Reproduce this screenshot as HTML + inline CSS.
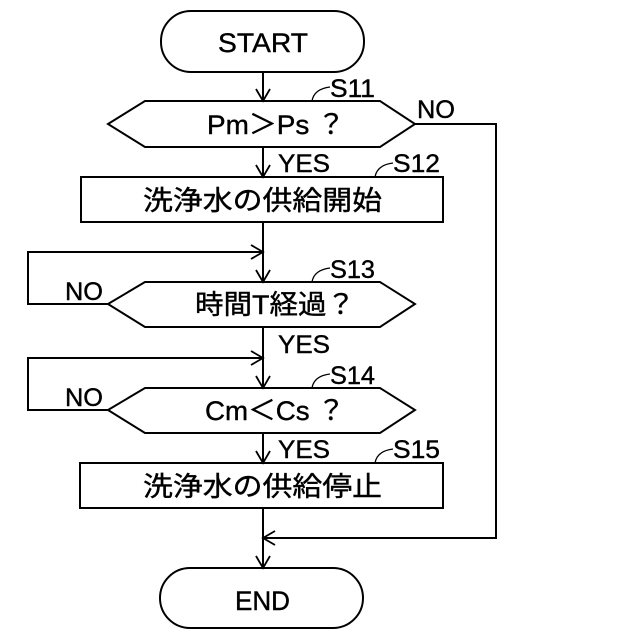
<!DOCTYPE html>
<html><head><meta charset="utf-8"><style>html,body{margin:0;padding:0;background:#fff}svg{display:block}text{font-family:"Liberation Sans","Noto Sans CJK JP",sans-serif;fill:#000;stroke:#000;stroke-width:0.4}</style></head><body>
<svg width="640" height="640" viewBox="0 0 640 640" xmlns="http://www.w3.org/2000/svg">
<g fill="none" stroke="#000" stroke-width="2">
<rect x="161" y="11" width="203" height="61" rx="30"/>
<polygon points="108,124 145,101 380,101 415,124 380,147 145,147"/>
<rect x="81" y="177" width="362" height="45"/>
<polygon points="108,304 145,282 380,282 415,304 380,327 145,327"/>
<polygon points="108,410 145,388 380,388 415,410 380,433 145,433"/>
<rect x="80" y="463" width="363" height="45"/>
<rect x="160" y="568" width="203" height="60" rx="30"/>
<line x1="263" y1="72" x2="263" y2="101"/>
<line x1="263" y1="147" x2="263" y2="177"/>
<line x1="263" y1="222" x2="263" y2="282"/>
<line x1="263" y1="327" x2="263" y2="388"/>
<line x1="263" y1="433" x2="263" y2="463"/>
<line x1="263" y1="508" x2="263" y2="568"/>
<polyline points="415,124 496,124 496,538 263,538"/>
<polyline points="108,304 28,304 28,252 263,252"/>
<polyline points="108,410 28,410 28,358 263,358"/>
<g stroke-width="1.8">
<polyline points="256,89 263,101 270,89"/>
<polyline points="256,165 263,177 270,165"/>
<polyline points="256,270 263,282 270,270"/>
<polyline points="256,376 263,388 270,376"/>
<polyline points="256,451 263,463 270,451"/>
<polyline points="256,556 263,568 270,556"/>
<polyline points="251,245 263,252 251,259"/>
<polyline points="251,351 263,358 251,365"/>
<polyline points="275,531 263,538 275,545"/>
</g>
<g stroke-width="1.3">
<path d="M312,101 Q314,89 330,87"/>
<path d="M375,177 Q377,165 393,163"/>
<path d="M312,282 Q314,270 330,268"/>
<path d="M312,388 Q314,376 330,374"/>
<path d="M375,463 Q377,451 393,449"/>
</g>
</g>
<g font-size="27">
<text x="218" y="52" textLength="90" lengthAdjust="spacingAndGlyphs">START</text>
<text x="207" y="134" textLength="138" lengthAdjust="spacingAndGlyphs">Pm＞Ps ？</text>
<text x="143" y="210" textLength="239" lengthAdjust="spacingAndGlyphs">洗浄水の供給開始</text>
<text x="195" y="314" textLength="160" lengthAdjust="spacingAndGlyphs">時間T経過？</text>
<text x="205" y="420" textLength="140" lengthAdjust="spacingAndGlyphs">Cm＜Cs ？</text>
<text x="143" y="496" textLength="239" lengthAdjust="spacingAndGlyphs">洗浄水の供給停止</text>
<text x="235" y="610" textLength="55" lengthAdjust="spacingAndGlyphs">END</text>
</g>
<g font-size="25">
<text x="330" y="97" textLength="45" lengthAdjust="spacingAndGlyphs">S11</text>
<text x="393" y="172" textLength="47" lengthAdjust="spacingAndGlyphs">S12</text>
<text x="330" y="278" textLength="45" lengthAdjust="spacingAndGlyphs">S13</text>
<text x="330" y="384" textLength="45" lengthAdjust="spacingAndGlyphs">S14</text>
<text x="393" y="458" textLength="47" lengthAdjust="spacingAndGlyphs">S15</text>
<text x="278" y="172" textLength="52" lengthAdjust="spacingAndGlyphs">YES</text>
<text x="278" y="353" textLength="52" lengthAdjust="spacingAndGlyphs">YES</text>
<text x="278" y="458" textLength="52" lengthAdjust="spacingAndGlyphs">YES</text>
<text x="417" y="118" textLength="38" lengthAdjust="spacingAndGlyphs">NO</text>
<text x="65" y="300" textLength="38" lengthAdjust="spacingAndGlyphs">NO</text>
<text x="65" y="406" textLength="38" lengthAdjust="spacingAndGlyphs">NO</text>
</g>
</svg>
</body></html>
